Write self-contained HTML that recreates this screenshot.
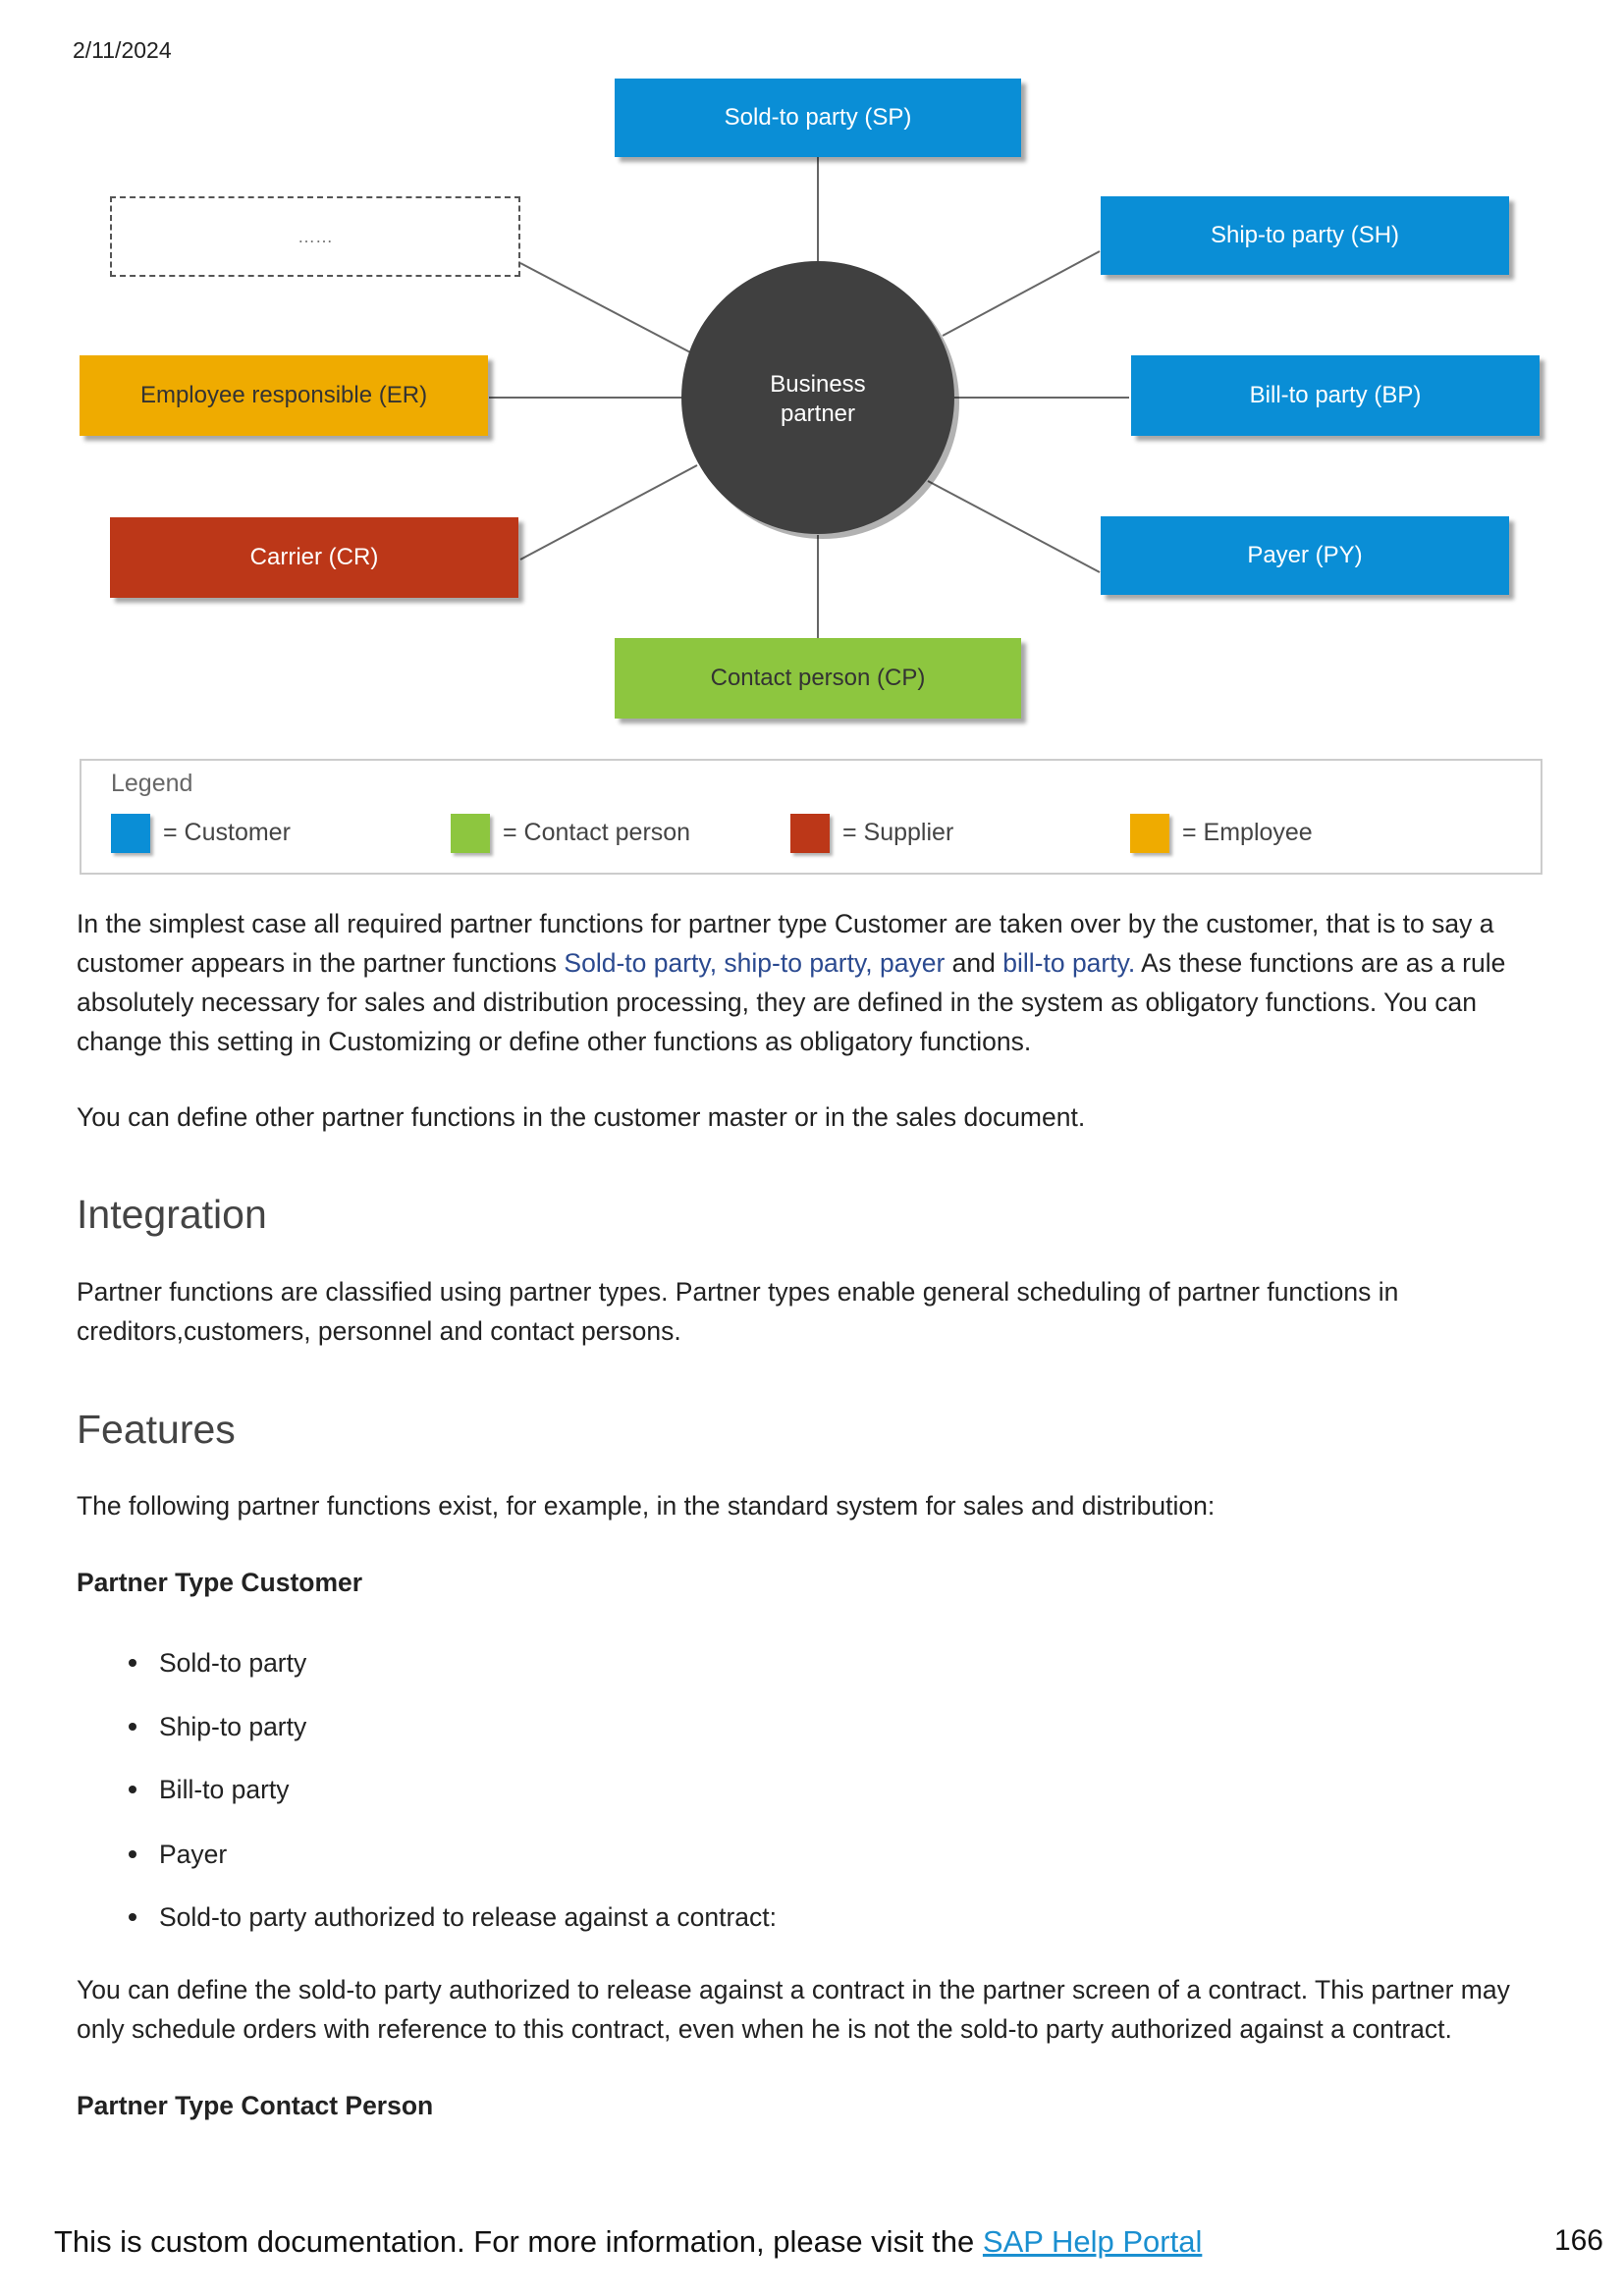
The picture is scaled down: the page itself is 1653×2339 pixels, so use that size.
<!DOCTYPE html>
<html><head><meta charset="utf-8">
<style>
body{margin:0;width:1653px;height:2339px;background:#fff;position:relative;font-family:"Liberation Sans",sans-serif;color:#222;overflow:hidden}
.a{position:absolute;white-space:nowrap}
.box{position:absolute;display:flex;align-items:center;justify-content:center;font-size:24px;box-shadow:5px 5px 4px rgba(0,0,0,.35)}
.bl{background:#0a8ed6;color:#fff}
.t{position:absolute;left:78px;font-size:26.5px;line-height:40px;white-space:nowrap}
.h{position:absolute;left:78px;font-size:41px;color:#444}
.li{position:absolute;left:162px;font-size:26.5px}
.dot{position:absolute;left:131px;width:8px;height:8px;border-radius:50%;background:#222}
.lk{color:#2b4a90}
.sw{position:absolute;width:40px;height:40px;box-shadow:3px 3px 3px rgba(0,0,0,.3)}
.le{position:absolute;top:834px;font-size:25px;color:#444;white-space:nowrap}
</style></head><body>
<div class="a" style="left:74px;top:38px;font-size:23px">2/11/2024</div>

<svg class="a" style="left:0;top:0" width="1653" height="760">
<g stroke="#666" stroke-width="2">
<line x1="833" y1="159" x2="833" y2="270"/>
<line x1="833" y1="545" x2="833" y2="650"/>
<line x1="498" y1="405" x2="700" y2="405"/>
<line x1="972" y1="405" x2="1150" y2="405"/>
<line x1="530" y1="268" x2="705" y2="360"/>
<line x1="960" y1="342" x2="1120" y2="256"/>
<line x1="530" y1="570" x2="710" y2="474"/>
<line x1="945" y1="490" x2="1120" y2="583"/>
</g>
<circle cx="838" cy="410" r="139" fill="rgba(0,0,0,.3)"/>
<circle cx="833" cy="405" r="139" fill="#404040"/>
<text x="833" y="399" fill="#fff" font-size="24" text-anchor="middle" font-family="Liberation Sans">Business</text>
<text x="833" y="429" fill="#fff" font-size="24" text-anchor="middle" font-family="Liberation Sans">partner</text>
</svg>

<div class="box bl" style="left:626px;top:80px;width:414px;height:80px">Sold-to party (SP)</div>
<div class="box" style="left:112px;top:200px;width:414px;height:78px;border:2px dashed #555;box-shadow:none;color:#777;font-size:18px">……</div>
<div class="box bl" style="left:1121px;top:200px;width:416px;height:80px">Ship-to party (SH)</div>
<div class="box" style="left:81px;top:362px;width:416px;height:82px;background:#efab00;color:#333">Employee responsible (ER)</div>
<div class="box bl" style="left:1152px;top:362px;width:416px;height:82px">Bill-to party (BP)</div>
<div class="box" style="left:112px;top:527px;width:416px;height:82px;background:#bc3718;color:#fff">Carrier (CR)</div>
<div class="box bl" style="left:1121px;top:526px;width:416px;height:80px">Payer (PY)</div>
<div class="box" style="left:626px;top:650px;width:414px;height:82px;background:#8dc63f;color:#333">Contact person (CP)</div>

<div class="a" style="left:81px;top:773px;width:1486px;height:114px;border:2px solid #ccc"></div>
<div class="a" style="left:113px;top:784px;font-size:25px;color:#666">Legend</div>
<div class="sw" style="left:113px;top:829px;background:#0a8ed6"></div>
<div class="le" style="left:166px">= Customer</div>
<div class="sw" style="left:459px;top:829px;background:#8dc63f"></div>
<div class="le" style="left:512px">= Contact person</div>
<div class="sw" style="left:805px;top:829px;background:#bc3718"></div>
<div class="le" style="left:858px">= Supplier</div>
<div class="sw" style="left:1151px;top:829px;background:#efab00"></div>
<div class="le" style="left:1204px">= Employee</div>

<div class="t" style="top:921px">In the simplest case all required partner functions for partner type Customer are taken over by the customer, that is to say a<br>customer appears in the partner functions <span class="lk">Sold-to party, ship-to party, payer</span> and <span class="lk">bill-to party.</span> As these functions are as a rule<br>absolutely necessary for sales and distribution processing, they are defined in the system as obligatory functions. You can<br>change this setting in Customizing or define other functions as obligatory functions.</div>
<div class="t" style="top:1118px">You can define other partner functions in the customer master or in the sales document.</div>
<div class="h" style="top:1214px">Integration</div>
<div class="t" style="top:1296px">Partner functions are classified using partner types. Partner types enable general scheduling of partner functions in<br>creditors,customers, personnel and contact persons.</div>
<div class="h" style="top:1433px">Features</div>
<div class="t" style="top:1514px">The following partner functions exist, for example, in the standard system for sales and distribution:</div>
<div class="t" style="top:1592px;font-weight:bold">Partner Type Customer</div>
<div class="dot" style="top:1690px"></div><div class="li" style="top:1679px">Sold-to party</div>
<div class="dot" style="top:1755px"></div><div class="li" style="top:1744px">Ship-to party</div>
<div class="dot" style="top:1819px"></div><div class="li" style="top:1808px">Bill-to party</div>
<div class="dot" style="top:1885px"></div><div class="li" style="top:1874px">Payer</div>
<div class="dot" style="top:1949px"></div><div class="li" style="top:1938px">Sold-to party authorized to release against a contract:</div>
<div class="t" style="top:2007px">You can define the sold-to party authorized to release against a contract in the partner screen of a contract. This partner may<br>only schedule orders with reference to this contract, even when he is not the sold-to party authorized against a contract.</div>
<div class="t" style="top:2125px;font-weight:bold">Partner Type Contact Person</div>

<div class="a" style="left:55px;top:2266px;font-size:31px;color:#111">This is custom documentation. For more information, please visit the <span style="color:#1a8fd0;text-decoration:underline">SAP Help Portal</span></div>
<div class="a" style="right:20px;top:2266px;font-size:30px;color:#111">166</div>
</body></html>
